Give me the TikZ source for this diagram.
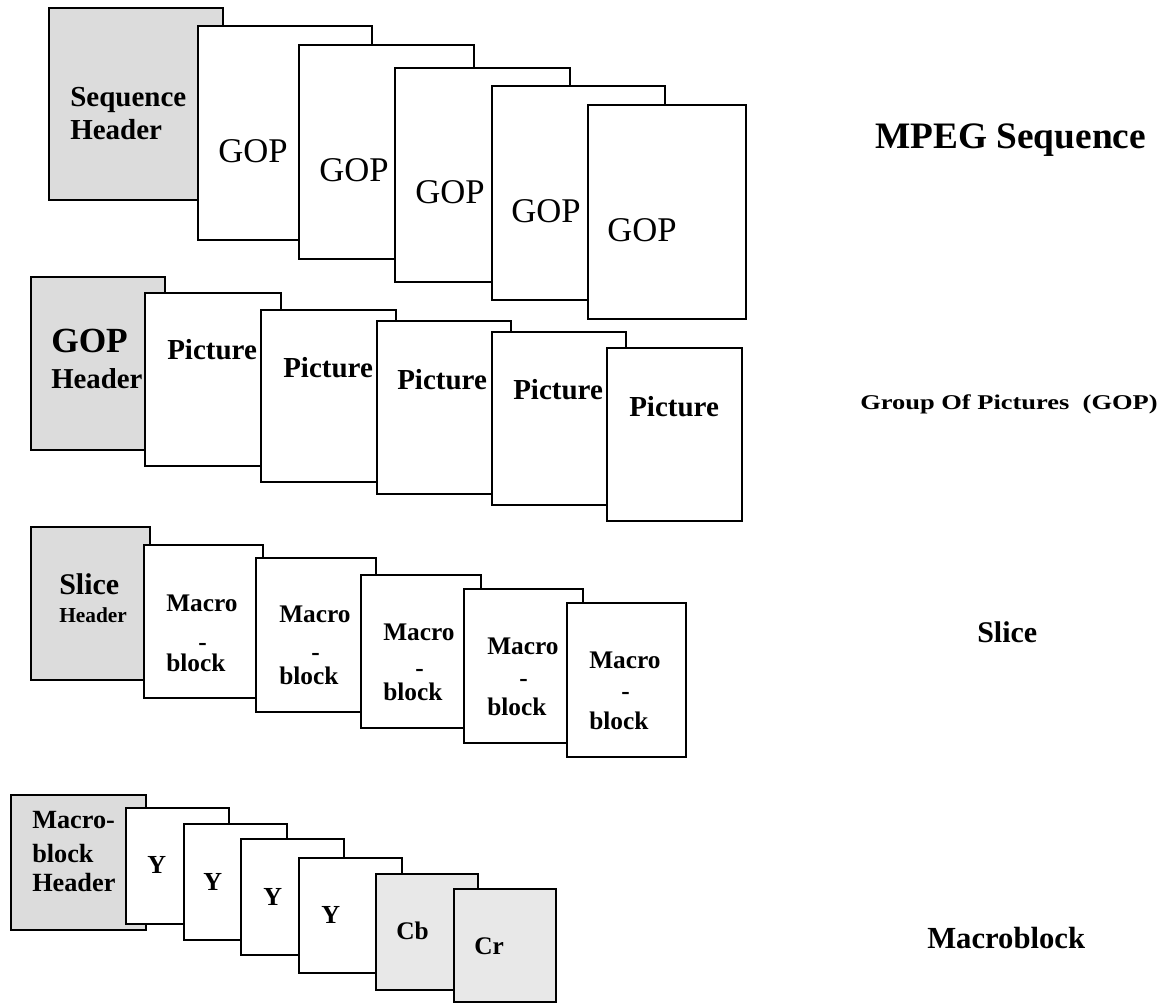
\documentclass[tikz,border=0pt]{standalone}
\usepackage{fontspec}
\setmainfont{Liberation Serif}
\definecolor{hdrgray}{RGB}{220,220,220}
\definecolor{chromagray}{RGB}{232,232,232}
% \sheet{style}{name}{x1}{y1}{x2}{y2}: a page drawn from its top-left to its bottom-right corner
\newcommand\sheet[6]{\node[#1, minimum width={(#5-#3)*0.75pt}, minimum height={(#6-#4)*0.75pt}] (#2) at (#3,#4) {};}
\begin{document}
\begin{tikzpicture}[x=0.75pt,y=-0.75pt,
  sheet/.style={draw=black, line width=1.4pt, fill=white, rectangle, inner sep=0pt, anchor=north west},
  hdrsheet/.style={sheet, fill=hdrgray},
  chromasheet/.style={sheet, fill=chromagray},
  lbl/.style={anchor=base west, inner sep=0pt},
  dashlbl/.style={anchor=base, inner sep=0pt, font=\fontsize{19}{23}\selectfont\bfseries},
  mblbl/.style={lbl, font=\fontsize{19}{23}\selectfont\bfseries}]
\useasboundingbox (0,0) rectangle (1162,1003);

% ---- MPEG sequence ----
\sheet{hdrsheet}{seqhdr}{48}{7}{222}{199}
\sheet{sheet}{gopA}{197}{25}{371}{239}
\sheet{sheet}{gopB}{298}{44}{473}{258}
\sheet{sheet}{gopC}{394}{67}{569}{281}
\sheet{sheet}{gopD}{491}{85}{664}{299}
\sheet{sheet}{gopE}{587}{104}{745}{318}
\node[lbl, font=\fontsize{21.75}{26}\selectfont\bfseries] (seqhdrA) at (70,106) {Sequence};
\node[lbl, font=\fontsize{21.75}{26}\selectfont\bfseries] (seqhdrB) at (70,139) {Header};
\foreach \n/\x/\y in {A/218/162, B/319/181, C/415/203, D/511/222, E/607/241}
  \node[lbl, font=\fontsize{26}{30}\selectfont] (goplbl\n) at (\x,\y) {GOP};
\node[lbl, font=\fontsize{28}{32}\selectfont\bfseries] (titleseq) at (875,148) {MPEG Sequence};

% ---- Group of pictures ----
\sheet{hdrsheet}{gophdr}{30}{276}{164}{449}
\sheet{sheet}{picA}{144}{292}{280}{465}
\sheet{sheet}{picB}{260}{309}{395}{481}
\sheet{sheet}{picC}{376}{320}{510}{493}
\sheet{sheet}{picD}{491}{331}{625}{504}
\sheet{sheet}{picE}{606}{347}{741}{520}
\node[lbl, font=\fontsize{26.5}{30}\selectfont\bfseries] (gophdrA) at (51,352) {GOP};
\node[lbl, font=\fontsize{21.6}{26}\selectfont\bfseries] (gophdrB) at (51,388) {Header};
\foreach \n/\x/\y in {A/167/359, B/283/377, C/397/389, D/513/399, E/629/416}
  \node[lbl, font=\fontsize{21.75}{26}\selectfont\bfseries] (piclbl\n) at (\x,\y) {Picture};
\node[lbl, font=\fontsize{15.75}{19}\selectfont\bfseries] (titlegop) at (860,409) {\scalebox{1.26}[1]{Group Of Pictures\ \ (GOP)}};

% ---- Slice ----
\sheet{hdrsheet}{slchdr}{30}{526}{149}{679}
\sheet{sheet}{mbA}{143}{544}{262}{697}
\sheet{sheet}{mbB}{255}{557}{375}{711}
\sheet{sheet}{mbC}{360}{574}{480}{727}
\sheet{sheet}{mbD}{463}{588}{582}{742}
\sheet{sheet}{mbE}{566}{602}{685}{756}
\node[lbl, font=\fontsize{22.5}{27}\selectfont\bfseries] (slchdrA) at (59,594) {Slice};
\node[lbl, font=\fontsize{16}{19}\selectfont\bfseries] (slchdrB) at (59,622) {Header};
\foreach \n/\x/\ya/\yb/\yd in {A/166/611/671/650.5, B/279/622/684/660, C/383/640/700/676.5, D/487/654/715/686.5, E/589/668/729/699.5} {
  \node[mblbl] (mbtop\n) at (\x,\ya) {Macro};
  \node[dashlbl] (mbmid\n) at (\x+36.5,\yd) {-};
  \node[mblbl] (mbbot\n) at (\x,\yb) {block};
}
\node[lbl, font=\fontsize{22.5}{27}\selectfont\bfseries] (titleslc) at (977,642) {Slice};

% ---- Macroblock ----
\sheet{hdrsheet}{mbhdr}{10}{794}{145}{929}
\sheet{sheet}{lumA}{125}{807}{228}{923}
\sheet{sheet}{lumB}{183}{823}{286}{939}
\sheet{sheet}{lumC}{240}{838}{343}{954}
\sheet{sheet}{lumD}{298}{857}{401}{972}
\sheet{chromasheet}{cb}{375}{873}{477}{989}
\sheet{chromasheet}{cr}{453}{888}{555}{1001}
\node[lbl, font=\fontsize{19.7}{24}\selectfont\bfseries] (mbhdrA) at (32,828) {Macro-};
\node[lbl, font=\fontsize{19.7}{24}\selectfont\bfseries] (mbhdrB) at (32,862) {block};
\node[lbl, font=\fontsize{19.7}{24}\selectfont\bfseries] (mbhdrC) at (32,891) {Header};
\foreach \n/\x/\y in {A/147/873, B/203/890, C/263/905, D/321/923}
  \node[lbl, font=\fontsize{19.5}{23}\selectfont\bfseries] (lumlbl\n) at (\x,\y) {Y};
\node[lbl, font=\fontsize{19}{23}\selectfont\bfseries] (cblbl) at (396,939) {Cb};
\node[lbl, font=\fontsize{19}{23}\selectfont\bfseries] (crlbl) at (474,954) {Cr};
\node[lbl, font=\fontsize{23}{28}\selectfont\bfseries] (titlemb) at (927,948) {Macroblock};
\end{tikzpicture}
\end{document}
